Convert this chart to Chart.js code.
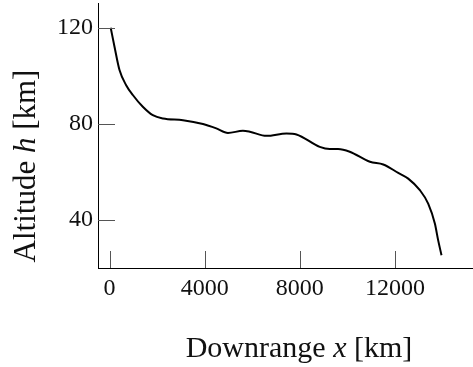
<!DOCTYPE html>
<html>
<head>
<meta charset="utf-8">
<script src="https://cdn.jsdelivr.net/npm/chart.js@4.4.1/dist/chart.umd.min.js"></script>
<style>
  html, body { margin: 0; padding: 0; background: #fff; }
  #wrap { width: 473px; height: 367px; }
</style>
</head>
<body>
<div id="wrap"><canvas id="chart" width="473" height="367"></canvas></div>
<script>
// Datos
const downrange = [50, 210, 420, 700, 980, 1400, 1820, 2250, 3090, 3930, 4490, 4980, 5610, 5900, 6600, 7440, 7860, 8840, 9260, 9610, 10100, 10950, 11510, 12140, 12560, 13050, 13400, 13680, 13820, 13960];
const altitude = [120, 112.1, 102.4, 96.1, 92, 87.1, 83.6, 82.2, 81.5, 79.9, 78.1, 76.2, 77.1, 76.7, 75, 76, 75.6, 70.4, 69.5, 69.5, 68.4, 64.2, 63.1, 59.6, 57.2, 52.4, 46.8, 38.5, 31.5, 25.3];
const xTicks = [0, 4000, 8000, 12000];
const yTicks = [40, 80, 120];

const serif = '"Liberation Serif", "Times New Roman", serif';

// Marcas hacia dentro y títulos con la variable en cursiva
const axesPlugin = {
    id: 'axesExtra',
    afterDraw(chart) {
        const ctx = chart.ctx;
        const area = chart.chartArea;
        const xs = chart.scales.x;
        const ys = chart.scales.y;

        ctx.save();
        ctx.strokeStyle = '#555';
        ctx.lineWidth = 1;
        yTicks.forEach(v => {
            const py = Math.round(ys.getPixelForValue(v)) + 0.5;
            ctx.beginPath();
            ctx.moveTo(area.left, py);
            ctx.lineTo(area.left + 17, py);
            ctx.stroke();
        });
        xTicks.forEach(v => {
            const px = Math.round(xs.getPixelForValue(v)) + 0.5;
            ctx.beginPath();
            ctx.moveTo(px, area.bottom);
            ctx.lineTo(px, area.bottom - 17);
            ctx.stroke();
        });
        ctx.restore();

        function drawParts(parts, size) {
            const widths = parts.map(p => {
                ctx.font = (p.italic ? 'italic ' : '') + size + 'px ' + serif;
                return ctx.measureText(p.text).width;
            });
            const total = widths.reduce((a, b) => a + b, 0);
            let cx = -total / 2;
            parts.forEach((p, i) => {
                ctx.font = (p.italic ? 'italic ' : '') + size + 'px ' + serif;
                ctx.fillText(p.text, cx, 0);
                cx += widths[i];
            });
        }

        ctx.save();
        ctx.fillStyle = '#111';
        ctx.textBaseline = 'alphabetic';
        ctx.textAlign = 'left';
        ctx.translate(299, 357);
        drawParts([{ text: 'Downrange ' }, { text: 'x', italic: true }, { text: ' [km]' }], 30);
        ctx.restore();

        ctx.save();
        ctx.fillStyle = '#111';
        ctx.textBaseline = 'alphabetic';
        ctx.textAlign = 'left';
        ctx.translate(35, 166);
        ctx.rotate(-Math.PI / 2);
        drawParts([{ text: 'Altitude ' }, { text: 'h', italic: true }, { text: ' [km]' }], 31);
        ctx.restore();
    }
};

const ctx = document.getElementById('chart').getContext('2d');
const chart = new Chart(ctx, {
    type: 'line',
    data: {
        datasets: [{
            data: downrange.map((x, i) => ({ x: x, y: altitude[i] })),
            borderColor: '#000',
            borderWidth: 2,
            pointRadius: 0,
            fill: false,
            cubicInterpolationMode: 'monotone'
        }]
    },
    options: {
        responsive: false,
        animation: false,
        events: [],
        layout: { padding: { top: 3, right: 0, left: 0, bottom: 0 } },
        plugins: {
            legend: { display: false },
            tooltip: { enabled: false }
        },
        scales: {
            x: {
                type: 'linear',
                min: -484,
                max: 15284,
                afterBuildTicks: s => { s.ticks = xTicks.map(v => ({ value: v })); },
                afterFit: s => { s.height = 99; s.paddingLeft = 0; s.paddingRight = 0; },
                grid: { display: false, drawTicks: false },
                border: { display: true, color: '#000', width: 1 },
                ticks: {
                    color: '#111',
                    padding: 6,
                    maxRotation: 0,
                    font: { family: serif, size: 24 },
                    callback: v => String(v)
                }
            },
            y: {
                type: 'linear',
                min: 20,
                max: 130.3,
                afterBuildTicks: s => { s.ticks = yTicks.map(v => ({ value: v })); },
                afterFit: s => { s.width = 98; s.paddingTop = 0; s.paddingBottom = 0; },
                grid: { display: false, drawTicks: false },
                border: { display: true, color: '#000', width: 1 },
                ticks: {
                    color: '#111',
                    padding: 5,
                    font: { family: serif, size: 24 },
                    callback: v => String(v)
                }
            }
        }
    },
    plugins: [axesPlugin]
});
</script>
</body>
</html>
